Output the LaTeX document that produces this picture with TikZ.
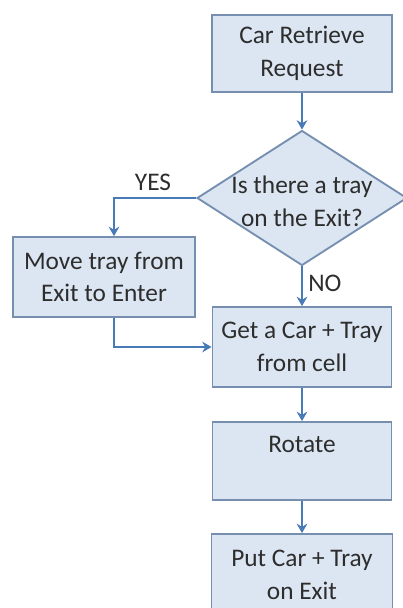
\documentclass[tikz,border=0pt]{standalone}
\usepackage{fontspec}
\setmainfont{Carlito}
\usetikzlibrary{shapes.geometric,arrows.meta}
\definecolor{boxfill}{RGB}{220,230,242}
\definecolor{boxline}{RGB}{118,143,176}
\definecolor{arrowc}{RGB}{72,122,184}
\definecolor{txt}{RGB}{45,45,45}
\tikzset{
  stepbox/.style={draw=boxline, fill=boxfill, line width=1.4pt, inner sep=0pt,
    align=center, text=txt, font=\fontsize{19}{24.5}\selectfont},
  decision/.style={diamond, draw=boxline, fill=boxfill, line width=1.4pt, inner sep=0pt},
  conn/.style={draw=arrowc, line width=1.5pt, -{Stealth[length=7pt,width=8pt]}},
  lbl/.style={text=txt, font=\fontsize{19}{24.5}\selectfont, inner sep=0pt},
}
\begin{document}
\begin{tikzpicture}[x=0.75pt,y=-0.75pt]
\clip (0,0) rectangle (403,608);
\fill[white] (0,0) rectangle (403,608);
\useasboundingbox (0,0) rectangle (403,608);
\node[stepbox, minimum width=135pt, minimum height=57.75pt] (req) at (302,53.5) {Car Retrieve\\Request};
\node[decision, minimum width=157.5pt, minimum height=101.25pt] (dec) at (302,198) {};
\node[lbl, align=center] (dectext) at (302,201) {Is there a tray\\on the Exit?};
\node[stepbox, minimum width=136.5pt, minimum height=60pt] (move) at (104,277) {Move tray from\\Exit to Enter};
\node[stepbox, minimum width=134.25pt, minimum height=60pt] (get) at (302,347) {Get a Car + Tray\\from cell};
\node[stepbox, minimum width=134.25pt, minimum height=58.5pt] (rot) at (302,461) {Rotate\\~};
\node[stepbox, minimum width=135.75pt, minimum height=61.5pt] (put) at (302,575) {Put Car + Tray\\on Exit};
\node[lbl] (yes) at (153,182) {YES};
\node[lbl, anchor=west] (no) at (308,283) {NO};
\coordinate (movetop) at ([xshift=7.5pt]move.north);
\coordinate (movebot) at ([xshift=7.5pt]move.south);
\draw[conn] (req) -- (dec);
\draw[conn] (dec.west) -| (movetop);
\draw[conn] (dec.south) -- (get.north);
\draw[conn] (movebot) |- (get.west);
\draw[conn] (get) -- (rot);
\draw[conn] (rot) -- (put);
\end{tikzpicture}
\end{document}
